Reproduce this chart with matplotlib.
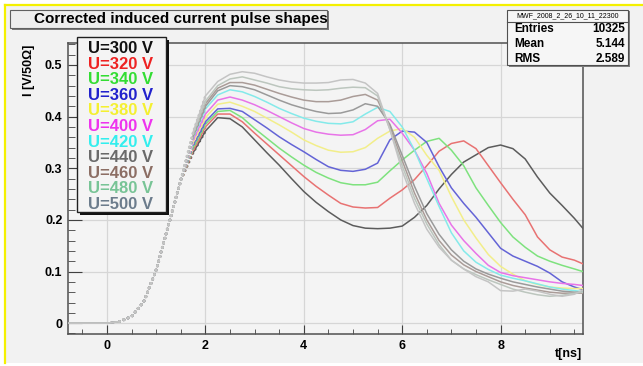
import matplotlib
matplotlib.use("Agg")
import matplotlib.pyplot as plt
from matplotlib.patches import Rectangle
from matplotlib.ticker import MultipleLocator

plt.rcParams["font.family"] = ["Liberation Sans", "DejaVu Sans"]
plt.rcParams["font.weight"] = "bold"

W, H = 643, 366

# sampling times [ns]
t_ns = [-0.8, -0.4, 0.0, 0.25, 0.5, 0.75, 1.0, 1.25, 1.5,
        1.75, 2.0, 2.25, 2.5, 2.75, 3.0, 3.25, 3.5, 3.75, 4.0, 4.25, 4.5,
        4.75, 5.0, 5.25, 5.5, 5.75, 6.0, 6.25, 6.5, 6.75, 7.0, 7.25, 7.5,
        7.75, 8.0, 8.25, 8.5, 8.75, 9.0, 9.25, 9.5, 9.67]

# leading edge is the same for every bias voltage up to 1.5 ns
rise = [0.0, 0.0, 0.0, 0.003, 0.013, 0.042, 0.103, 0.19, 0.277]

# pulse shape after 1.5 ns, one list per bias voltage [V/50 Ohm]
i_300 = [0.330, 0.372, 0.398, 0.396, 0.380, 0.355, 0.330, 0.306, 0.280, 0.255, 0.234, 0.216,
         0.200, 0.189, 0.184, 0.183, 0.184, 0.188, 0.205, 0.228, 0.260, 0.288, 0.312, 0.326,
         0.340, 0.345, 0.338, 0.318, 0.283, 0.252, 0.228, 0.203, 0.184]
i_320 = [0.335, 0.380, 0.405, 0.405, 0.390, 0.368, 0.347, 0.326, 0.305, 0.284, 0.265, 0.248,
         0.232, 0.225, 0.223, 0.224, 0.242, 0.258, 0.278, 0.305, 0.333, 0.348, 0.353, 0.338,
         0.305, 0.272, 0.240, 0.210, 0.167, 0.142, 0.128, 0.122, 0.115]
i_340 = [0.340, 0.385, 0.410, 0.412, 0.398, 0.377, 0.358, 0.339, 0.322, 0.306, 0.292, 0.281,
         0.272, 0.268, 0.268, 0.273, 0.295, 0.316, 0.335, 0.352, 0.358, 0.335, 0.305, 0.262,
         0.228, 0.195, 0.167, 0.147, 0.130, 0.120, 0.112, 0.105, 0.100]
i_360 = [0.345, 0.390, 0.415, 0.416, 0.410, 0.394, 0.378, 0.361, 0.346, 0.332, 0.317, 0.303,
         0.296, 0.294, 0.298, 0.310, 0.355, 0.372, 0.370, 0.350, 0.303, 0.262, 0.232, 0.205,
         0.175, 0.145, 0.130, 0.120, 0.110, 0.097, 0.080, 0.070, 0.065]
i_380 = [0.350, 0.398, 0.424, 0.428, 0.420, 0.410, 0.397, 0.384, 0.370, 0.355, 0.344, 0.335,
         0.331, 0.332, 0.340, 0.358, 0.372, 0.377, 0.360, 0.325, 0.296, 0.245, 0.200, 0.165,
         0.133, 0.110, 0.095, 0.082, 0.075, 0.070, 0.068, 0.067, 0.067]
i_400 = [0.355, 0.405, 0.432, 0.438, 0.432, 0.423, 0.412, 0.400, 0.388, 0.377, 0.370, 0.366,
         0.364, 0.365, 0.375, 0.392, 0.395, 0.368, 0.335, 0.290, 0.232, 0.190, 0.160, 0.135,
         0.112, 0.098, 0.092, 0.088, 0.084, 0.080, 0.077, 0.075, 0.073]
i_420 = [0.360, 0.415, 0.442, 0.452, 0.448, 0.439, 0.428, 0.416, 0.406, 0.397, 0.391, 0.387,
         0.386, 0.390, 0.405, 0.418, 0.410, 0.380, 0.335, 0.280, 0.226, 0.175, 0.140, 0.118,
         0.104, 0.093, 0.087, 0.082, 0.076, 0.070, 0.066, 0.063, 0.061]
i_440 = [0.362, 0.420, 0.450, 0.460, 0.458, 0.452, 0.442, 0.432, 0.423, 0.416, 0.410, 0.406,
         0.407, 0.413, 0.425, 0.420, 0.385, 0.325, 0.265, 0.212, 0.172, 0.142, 0.120, 0.105,
         0.095, 0.087, 0.080, 0.075, 0.070, 0.066, 0.062, 0.060, 0.060]
i_460 = [0.365, 0.425, 0.455, 0.466, 0.466, 0.461, 0.453, 0.445, 0.438, 0.432, 0.429, 0.429,
         0.432, 0.439, 0.443, 0.432, 0.380, 0.315, 0.252, 0.200, 0.160, 0.132, 0.113, 0.100,
         0.090, 0.080, 0.073, 0.068, 0.064, 0.060, 0.058, 0.058, 0.058]
i_480 = [0.367, 0.430, 0.460, 0.473, 0.477, 0.471, 0.465, 0.458, 0.454, 0.452, 0.451, 0.452,
         0.455, 0.457, 0.456, 0.440, 0.375, 0.305, 0.242, 0.192, 0.152, 0.122, 0.105, 0.094,
         0.084, 0.075, 0.066, 0.060, 0.055, 0.052, 0.054, 0.058, 0.060]
i_500 = [0.370, 0.440, 0.468, 0.482, 0.487, 0.484, 0.477, 0.471, 0.467, 0.465, 0.465, 0.466,
         0.471, 0.472, 0.465, 0.445, 0.375, 0.295, 0.232, 0.182, 0.147, 0.122, 0.105, 0.090,
         0.080, 0.063, 0.062, 0.066, 0.062, 0.056, 0.052, 0.056, 0.064]

voltages = [300, 320, 340, 360, 380, 400, 420, 440, 460, 480, 500]
pulses = [i_300, i_320, i_340, i_360, i_380, i_400, i_420, i_440, i_460, i_480, i_500]
line_colors = ["#5c5c5c", "#e87272", "#7ee27e", "#6464d6", "#f2ee8a", "#e874e8",
               "#84eaea", "#9a9a9a", "#aa9c98", "#bcc6be", "#c4c4c4"]
text_colors = ["#111111", "#ee2222", "#33dd33", "#2222cc", "#f4f030", "#ee33ee",
               "#33eeee", "#6a6a6a", "#8c6e64", "#78c496", "#6c7c8c"]

stats = [("Entries", "10325"), ("Mean", "5.144"), ("RMS", "2.589")]


def fx(px):
    return px / W


def fy(py):
    return 1 - py / H


def box(fig, x0, y0, x1, y1, face, edge, lw=0.8, shadow=None, sh=2.0):
    """Rectangle given in pixel coords (origin top-left)."""
    if shadow:
        fig.add_artist(Rectangle((fx(x0 + sh), fy(y1 + sh)), fx(x1 - x0), (y1 - y0) / H,
                                 transform=fig.transFigure, facecolor=shadow,
                                 edgecolor="none", zorder=4))
    fig.add_artist(Rectangle((fx(x0), fy(y1)), fx(x1 - x0), (y1 - y0) / H,
                             transform=fig.transFigure, facecolor=face,
                             edgecolor=edge, lw=lw, zorder=5))


fig = plt.figure(figsize=(W / 100, H / 100), dpi=100, facecolor="white")

# canvas with the yellow pad border on the left and top
fig.add_artist(Rectangle((fx(5), fy(363)), fx(W - 5), 358 / H, transform=fig.transFigure,
                         facecolor="#f2f2f2", edgecolor="none", zorder=0))
fig.add_artist(plt.Line2D([fx(5), fx(5)], [fy(5), fy(363)], transform=fig.transFigure,
                          color="#f4f000", lw=1.6, zorder=1))
fig.add_artist(plt.Line2D([fx(5), fx(W)], [fy(5), fy(5)], transform=fig.transFigure,
                          color="#f4f000", lw=1.6, zorder=1))

ax = fig.add_axes([fx(68), fy(334), fx(583 - 68), (334 - 43) / H])
ax.set_facecolor("#f4f4f4")
ax.set_xlim(-0.793, 9.675)
ax.set_ylim(-0.021, 0.5426)

ax.xaxis.set_major_locator(MultipleLocator(2))
ax.xaxis.set_minor_locator(MultipleLocator(0.5))
ax.yaxis.set_major_locator(MultipleLocator(0.1))
ax.yaxis.set_minor_locator(MultipleLocator(0.02))
ax.yaxis.set_major_formatter(matplotlib.ticker.FuncFormatter(lambda v, p: f"{v:g}"))
ax.grid(True, which="major", color="#d6d6d6", lw=0.9)
ax.set_axisbelow(True)
ax.tick_params(which="both", direction="in", top=False, right=False,
               labelsize=9, color="#404040", pad=4)
ax.tick_params(axis="y", which="major", length=10)
ax.tick_params(axis="y", which="minor", length=5)
ax.tick_params(axis="x", which="major", length=6.5)
ax.tick_params(axis="x", which="minor", length=3.5)
for s in ax.spines.values():
    s.set_color("#505050")
    s.set_linewidth(1.1)

for v, tail, c in zip(voltages, pulses, line_colors):
    y = rise + tail
    ax.plot(t_ns[:4], y[:4], color=c, lw=1.1, zorder=3)
    ax.plot(t_ns[3:11], y[3:11], color=c, lw=2.0, zorder=3,
            linestyle=(0, (0.1, 1.6)), dash_capstyle="round")
    ax.plot(t_ns[9:], y[9:], color=c, lw=1.1, zorder=3)

# axis titles
fig.text(fx(29), fy(70), "I [V/50\u03a9]", rotation=90, ha="center", va="center",
         fontsize=9, fontweight="bold")
fig.text(fx(582), fy(354), "t[ns]", ha="right", va="center", fontsize=9, fontweight="bold")

# title pad
box(fig, 10, 10, 327, 28, "#eeeeee", "#606060", lw=0.8, shadow="#7a7a7a", sh=1.5)
fig.text(fx(181), fy(19.5), "Corrected induced current pulse shapes", ha="center",
         va="center", fontsize=11, fontweight="bold", zorder=6)

# statistics box
box(fig, 507, 10, 628, 65, "#f6f6f6", "#505050", lw=0.8, shadow="#808080", sh=1.5)
fig.add_artist(plt.Line2D([fx(507), fx(628)], [fy(21.5), fy(21.5)],
                          transform=fig.transFigure, color="#505050", lw=0.8, zorder=6))
fig.text(fx(567.5), fy(16), "MWF_2008_2_26_10_11_22300", ha="center", va="center",
         fontsize=5, fontweight="normal", zorder=6)
for k, (name, val) in enumerate(stats):
    yy = fy(29 + 14.8 * k)
    fig.text(fx(514), yy, name, ha="left", va="center", fontsize=8.5, zorder=6)
    fig.text(fx(625), yy, val, ha="right", va="center", fontsize=8.5, zorder=6)

# legend with bias voltages
box(fig, 77, 37, 166, 212, "#f4f4f4", "#202020", lw=1.0, shadow="#111111", sh=3)
for k, (v, c) in enumerate(zip(voltages, text_colors)):
    fig.text(fx(88), fy(48.5 + 15.6 * k), f"U={v} V", ha="left", va="center",
             fontsize=12, fontweight="bold", color=c, zorder=6)

fig.savefig("out.png", dpi=100, facecolor=fig.get_facecolor())
